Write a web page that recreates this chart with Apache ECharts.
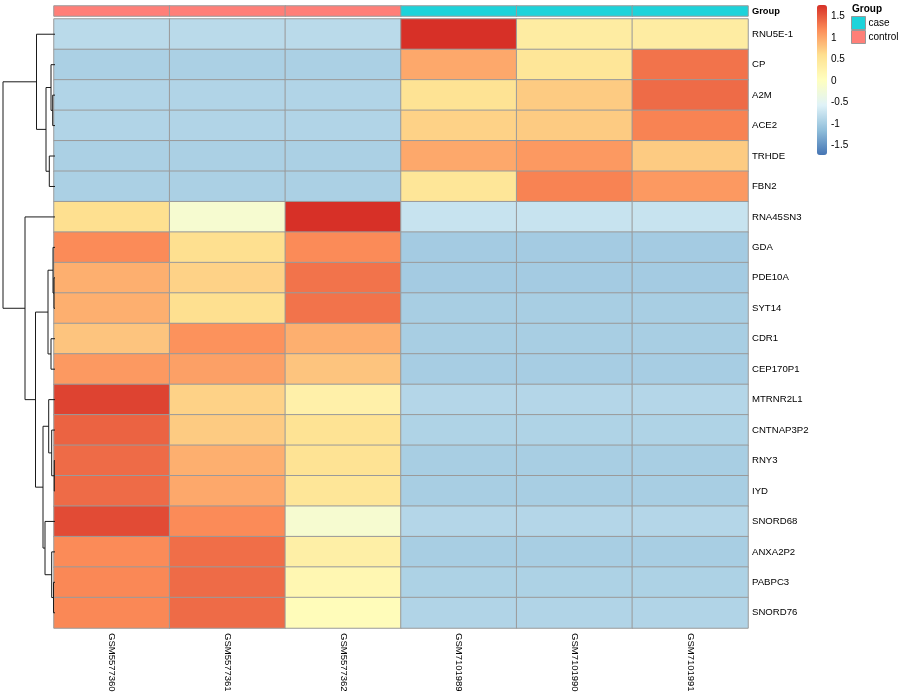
<!DOCTYPE html>
<html>
<head>
<meta charset="utf-8">
<script src="https://cdn.jsdelivr.net/npm/echarts@6/dist/echarts.min.js"></script>
<style>
html,body{margin:0;padding:0;background:#fff;}
#chart{width:900px;height:700px;}
</style>
</head>
<body>
<div id="chart"></div>
<script>
// ---------------- data ----------------
const genes = ["RNU5E-1","CP","A2M","ACE2","TRHDE","FBN2","RNA45SN3","GDA","PDE10A","SYT14",
  "CDR1","CEP170P1","MTRNR2L1","CNTNAP3P2","RNY3","IYD","SNORD68","ANXA2P2","PABPC3","SNORD76"];
const samples = ["GSM5577360","GSM5577361","GSM5577362","GSM7101989","GSM7101990","GSM7101991"];
const sampleGroup = ["control","control","control","case","case","case"];
const groupNames = ["case","control"];
const groupColors = ["#1DD3DA","#FF7F78"];

// row-scaled values (z-scores), one array per sample, in gene order
const GSM5577360 = [-0.84,-0.95,-0.90,-0.90,-0.95,-0.95, 0.60, 1.20, 0.95, 0.95, 0.80, 1.10, 1.65, 1.45, 1.40, 1.40, 1.60, 1.20, 1.22, 1.22];
const GSM5577361 = [-0.84,-0.95,-0.90,-0.90,-0.95,-0.95,-0.15, 0.60, 0.70, 0.60, 1.15, 1.05, 0.70, 0.75, 0.95, 1.00, 1.20, 1.38, 1.40, 1.40];
const GSM5577362 = [-0.84,-0.95,-0.90,-0.90,-0.95,-0.95, 1.77, 1.20, 1.35, 1.35, 0.95, 0.80, 0.30, 0.55, 0.55, 0.50,-0.15, 0.33, 0.18, 0.08];
const GSM7101989 = [ 1.77, 1.00, 0.55, 0.70, 1.00, 0.50,-0.74,-1.00,-1.00,-0.97,-0.97,-0.98,-0.88,-0.92,-0.97,-0.97,-0.88,-0.97,-0.93,-0.90];
const GSM7101990 = [ 0.38, 0.50, 0.75, 0.75, 1.10, 1.25,-0.74,-1.00,-1.00,-0.97,-0.97,-0.98,-0.88,-0.92,-0.97,-0.97,-0.88,-0.97,-0.93,-0.90];
const GSM7101991 = [ 0.38, 1.35, 1.40, 1.25, 0.75, 1.10,-0.74,-1.00,-1.00,-0.97,-0.97,-0.98,-0.88,-0.92,-0.97,-0.97,-0.88,-0.97,-0.93,-0.90];
const sampleValues = [GSM5577360,GSM5577361,GSM5577362,GSM7101989,GSM7101990,GSM7101991];

// row dendrogram (hclust-style merges: negative = leaf index in display order, positive = earlier merge)
const rowMerges = [
  [-15,-16, 0.7], [-9,-10, 1.0], [-19,-20, 1.5], [-8, 2, 2.0], [-3,-4, 2.3],
  [-14, 1, 3.3], [-18, 3, 3.3], [-2, 5, 4.0], [-11,-12, 4.0], [-5,-6, 5.7],
  [-13, 6, 6.3], [4, 9, 7.0], [8, 10, 9.0], [-17, 7, 10.0], [11, 14, 12.0],
  [-1, 13, 18.5], [12, 15, 19.5], [-7, 17, 30.0], [16, 18, 52.0]
];

const scaleMin = -1.72, scaleMax = 1.767;
const scaleTicks = [-1.5,-1,-0.5,0,0.5,1,1.5];
const paletteRdYlBu = ["#4575B4","#91BFDB","#E0F3F8","#FFFFBF","#FEE090","#FC8D59","#D73027"];

// ---------------- build ----------------
const heatData = [];
sampleValues.forEach((arr, si) => arr.forEach((v, gi) => heatData.push([si, gi, v])));
const annoData = sampleGroup.map((g, si) => [si, 0, groupNames.indexOf(g)]);

function buildDendro(merges){
  const nodes = [];
  const segs = [];
  const pos = r => r < 0 ? {y: -r - 1 + 0.5, h: 0} : nodes[r - 1];
  merges.forEach(([a, b, h]) => {
    const A = pos(a), B = pos(b);
    segs.push({coords: [[A.h, A.y], [h, A.y], [h, B.y], [B.h, B.y]]});
    nodes.push({y: (A.y + B.y) / 2, h: h});
  });
  return segs;
}
const dendroSegs = buildDendro(rowMerges);
const maxH = Math.max(...rowMerges.map(m => m[2]));

const FONT = "'Liberation Sans', Arial, Helvetica, sans-serif";
const chart = echarts.init(document.getElementById('chart'), null, {renderer: 'canvas'});

const option = {
  animation: false,
  backgroundColor: '#fff',
  textStyle: {fontFamily: FONT, color: '#000'},
  title: {
    text: 'Group', left: 852, top: 4, padding: 0,
    textStyle: {fontFamily: FONT, fontSize: 10, fontWeight: 'bold', color: '#000'}
  },
  legend: {
    data: groupNames, left: 851, top: 16, orient: 'vertical', padding: 0,
    itemGap: 0, itemWidth: 14, itemHeight: 13, icon: 'rect', selectedMode: false,
    itemStyle: {borderColor: '#999', borderWidth: 1, opacity: 1},
    textStyle: {fontFamily: FONT, fontSize: 10, color: '#000', padding: [0, 0, 0, -2]}
  },
  grid: [
    {left: 54, top: 19, width: 694, height: 609},
    {left: 54, top: 6, width: 694, height: 10},
    {left: 3, top: 19, width: 52, height: 609},
    {left: 817, top: 5, width: 10, height: 150}
  ],
  xAxis: [
    {gridIndex: 0, type: 'category', data: samples, axisLine: {show: false}, axisTick: {show: false},
     splitLine: {show: false},
     axisLabel: {rotate: -90, fontSize: 9.5, margin: 5, color: '#000', fontFamily: FONT}},
    {gridIndex: 1, type: 'category', data: samples, show: false},
    {gridIndex: 2, type: 'value', min: 0, max: maxH, inverse: true, show: false},
    {gridIndex: 3, type: 'value', min: 0, max: 1, show: false}
  ],
  yAxis: [
    {gridIndex: 0, type: 'category', data: genes, inverse: true, position: 'right',
     axisLine: {show: false}, axisTick: {show: false}, splitLine: {show: false},
     axisLabel: {fontSize: 9.6, margin: 4, color: '#000', fontFamily: FONT}},
    {gridIndex: 1, type: 'category', data: ['Group'], position: 'right',
     axisLine: {show: false}, axisTick: {show: false},
     axisLabel: {fontSize: 9.3, fontWeight: 'bold', margin: 4, color: '#000', fontFamily: FONT}},
    {gridIndex: 2, type: 'value', min: 0, max: genes.length, inverse: true, show: false},
    {gridIndex: 3, type: 'value', min: scaleMin, max: scaleMax, position: 'right',
     axisLine: {show: false}, axisTick: {show: false}, splitLine: {show: false},
     axisLabel: {customValues: scaleTicks, fontSize: 10, margin: 4, color: '#000', fontFamily: FONT,
       showMinLabel: true, showMaxLabel: true}}
  ],
  visualMap: [
    {type: 'continuous', seriesIndex: 0, dimension: 2, min: scaleMin, max: scaleMax,
     left: 817, top: 5, itemWidth: 10, itemHeight: 150, padding: 0, calculable: false,
     text: null, showLabel: false, hoverLink: false,
     inRange: {color: paletteRdYlBu}},
    {type: 'piecewise', seriesIndex: 1, dimension: 2, show: false,
     pieces: groupNames.map((g, i) => ({value: i, color: groupColors[i]}))}
  ],
  series: [
    {type: 'heatmap', xAxisIndex: 0, yAxisIndex: 0, data: heatData,
     itemStyle: {borderColor: '#9a9a9a', borderWidth: 1},
     emphasis: {disabled: true}},
    {type: 'heatmap', xAxisIndex: 1, yAxisIndex: 1, data: annoData,
     itemStyle: {borderColor: '#9a9a9a', borderWidth: 1},
     emphasis: {disabled: true}},
    {type: 'lines', coordinateSystem: 'cartesian2d', xAxisIndex: 2, yAxisIndex: 2,
     polyline: true, data: dendroSegs, silent: true,
     lineStyle: {color: '#1a1a1a', width: 1, opacity: 1}},
    {name: 'case', type: 'scatter', xAxisIndex: 3, yAxisIndex: 3, data: [],
     itemStyle: {color: groupColors[0], opacity: 1}},
    {name: 'control', type: 'scatter', xAxisIndex: 3, yAxisIndex: 3, data: [],
     itemStyle: {color: groupColors[1], opacity: 1}}
  ]
};
chart.setOption(option);
</script>
</body>
</html>
